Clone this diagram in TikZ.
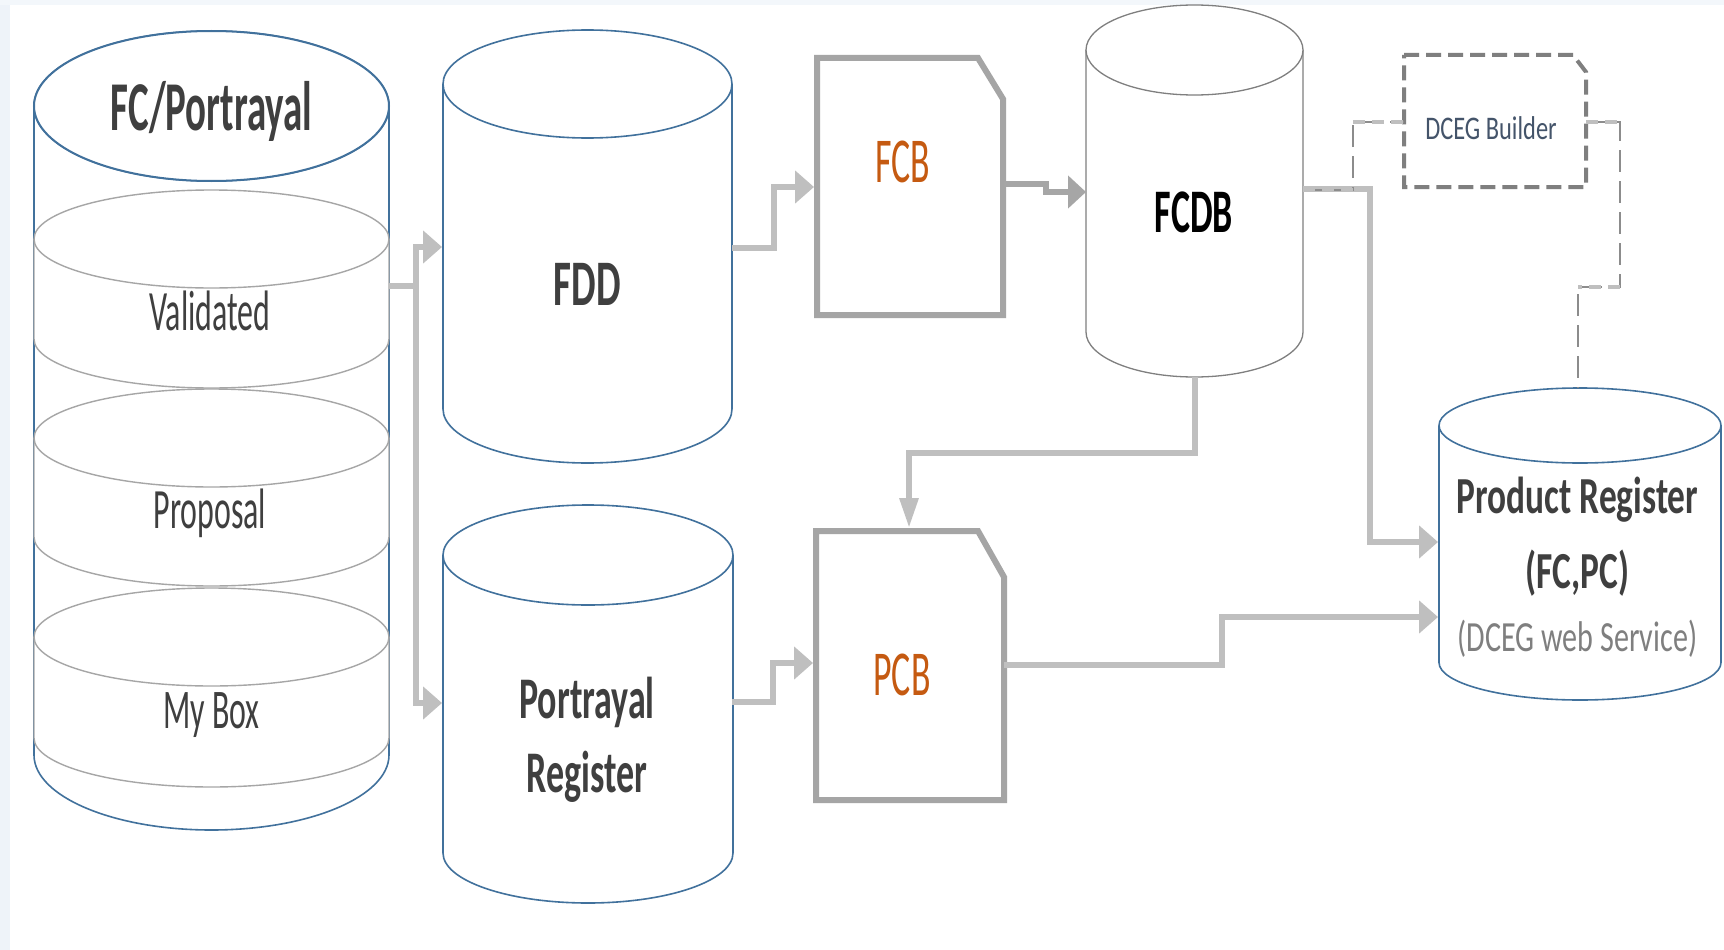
\documentclass[tikz,border=0pt]{standalone}
\usepackage{fontspec}
\setmainfont{Carlito}
\usepackage{graphicx}
\usetikzlibrary{arrows.meta}
\definecolor{cylblue}{HTML}{41719C}
\definecolor{diskgray}{HTML}{A6A6A6}
\definecolor{fcdbgray}{HTML}{7F7F7F}
\definecolor{conngray}{HTML}{BFBFBF}
\definecolor{conndark}{HTML}{A6A6A6}
\definecolor{boxgray}{HTML}{A5A5A5}
\definecolor{dashlight}{HTML}{BFBFBF}
\definecolor{dashdark}{HTML}{8C8C8C}
\definecolor{dashbox}{HTML}{7F7F7F}
\definecolor{txtdark}{HTML}{3F3F3F}
\definecolor{orangetxt}{HTML}{C55A11}
\definecolor{builderblue}{HTML}{44546A}
\definecolor{servicegray}{HTML}{7F7F7F}
\definecolor{bgblue}{HTML}{EEF3F9}
\definecolor{bgtop}{HTML}{F3F7FB}

\newcommand\hsq[2]{\scalebox{#1}[1]{#2}}
% cx, rx, top cy, bottom cy, ry, style
\newcommand\cylshape[6]{%
  \draw[#6, fill=white] ({#1-#2},#3) -- ({#1-#2},#4)
    .. controls ({#1-#2},{#4+0.5523*#5}) and ({#1-0.5523*#2},{#4+#5}) .. (#1,{#4+#5})
    .. controls ({#1+0.5523*#2},{#4+#5}) and ({#1+#2},{#4+0.5523*#5}) .. ({#1+#2},#4)
    -- ({#1+#2},#3);
  \draw[#6, fill=white] (#1,#3) ellipse [x radius=#2pt, y radius=#5pt];
}

\tikzset{
  cylb/.style={draw=cylblue, line width=1.6pt},
  cylg/.style={draw=fcdbgray, line width=1.3pt},
  disk/.style={draw=diskgray, line width=1.4pt},
  docbox/.style={draw=boxgray, line width=6pt, fill=white, line join=miter},
  dcegbox/.style={draw=dashbox, line width=4pt, dash pattern=on 15pt off 7pt},
  hit/.style={draw=none, inner sep=0pt, outer sep=0pt, fill=none},
  lbl/.style={anchor=base, inner sep=0pt, outer sep=0pt, text=txtdark},
  connline/.style={draw=conngray, line width=6pt},
  conn/.style={connline, -{Triangle[length=19pt,width=32pt]}},
  conndk/.style={draw=conndark, line width=6pt, -{Triangle[length=18pt,width=32pt]}},
  connthin/.style={connline, -{Triangle[length=30pt,width=18pt]}},
  dashconn/.style={draw=dashdark, line width=2pt, dash pattern=on 22pt off 9pt},
  dashhoriz/.style={draw=dashlight, line width=4pt, dash pattern=on 12pt off 7pt},
}

\begin{document}
\begin{tikzpicture}[x=1pt,y=-1pt]
\useasboundingbox (0,0) rectangle (1724,950);
\fill[white] (0,0) rectangle (1724,950);
\fill[bgblue] (0,0) rectangle (10,950);
\fill[bgtop] (0,0) rectangle (1724,5);

% ---------- FC/Portrayal stack ----------
\node[hit, minimum width=355pt, minimum height=799pt] (fcp) at (211.5,430.5) {};
\cylshape{211.5}{177.5}{106}{755}{75}{cylb}
\cylshape{211.5}{177.5}{239}{339}{49}{disk}
\cylshape{211.5}{177.5}{438}{537}{49}{disk}
\cylshape{211.5}{177.5}{637}{738}{49}{disk}
\draw[cylb, line width=2pt, fill=white] (211.5,106) ellipse [x radius=177.5pt, y radius=75pt];
\node[lbl] (t-fcp) at (211.5,130) {\fontsize{70pt}{80pt}\selectfont\bfseries\hsq{0.556}{FC/Portrayal}};
\node[lbl] (t-val) at (210,330) {\fontsize{57pt}{66pt}\selectfont\hsq{0.56}{Validated}};
\node[lbl] (t-prop) at (210,528) {\fontsize{57pt}{66pt}\selectfont\hsq{0.56}{Proposal}};
\node[lbl] (t-mybox) at (211.5,728) {\fontsize{56pt}{66pt}\selectfont\hsq{0.57}{My Box}};

% ---------- FDD ----------
\node[hit, minimum width=289pt, minimum height=433pt] (fdd) at (587.5,246.5) {};
\cylshape{587.5}{144.5}{84}{409}{54}{cylb}
\node[lbl] (t-fdd) at (587.5,305) {\fontsize{65pt}{75pt}\selectfont\bfseries\hsq{0.60}{FDD}};

% ---------- Portrayal Register ----------
\node[hit, minimum width=290pt, minimum height=398pt] (preg) at (588,704) {};
\cylshape{588}{145}{555}{853}{50}{cylb}
\node[lbl] (t-preg1) at (587,718) {\fontsize{59pt}{70pt}\selectfont\bfseries\hsq{0.61}{Portrayal}};
\node[lbl] (t-preg2) at (587,792) {\fontsize{59pt}{70pt}\selectfont\bfseries\hsq{0.61}{Register}};

% ---------- FCB ----------
\node[hit, minimum width=186pt, minimum height=257pt] (fcb) at (910,186.5) {};
\draw[docbox] (817,58) -- (978,58) -- (1003,99) -- (1003,315) -- (817,315) -- cycle;
\node[lbl, text=orangetxt] (t-fcb) at (903,182) {\fontsize{64pt}{74pt}\selectfont\hsq{0.56}{FCB}};

% ---------- PCB ----------
\node[hit, minimum width=188pt, minimum height=269pt] (pcb) at (910,665.5) {};
\draw[docbox] (816,531) -- (978,531) -- (1004,577) -- (1004,800) -- (816,800) -- cycle;
\node[lbl, text=orangetxt] (t-pcb) at (902,695) {\fontsize{64pt}{74pt}\selectfont\hsq{0.56}{PCB}};

% ---------- FCDB ----------
\node[hit, minimum width=217pt, minimum height=372pt] (fcdb) at (1194.5,191) {};
\cylshape{1194.5}{108.5}{50}{332}{45}{cylg}
\node[lbl, text=black] (t-fcdb) at (1194,232) {\fontsize{62pt}{72pt}\selectfont\bfseries\hsq{0.58}{FCDB}};

% ---------- DCEG Builder ----------
\node[hit, minimum width=182pt, minimum height=132pt] (dceg) at (1495,121) {};
\draw[dcegbox] (1404,55) -- (1573,55) -- (1586,72) -- (1586,187) -- (1404,187) -- cycle;
\node[lbl, text=builderblue] (t-dceg) at (1491,139) {\fontsize{33pt}{40pt}\selectfont\hsq{0.74}{DCEG Builder}};

% ---------- Product Register ----------
\node[hit, minimum width=282pt, minimum height=312pt] (prod) at (1580,544) {};
\cylshape{1580}{141}{425.5}{662.5}{37.5}{cylb}
\node[lbl] (t-prod1) at (1577.5,513) {\fontsize{52pt}{62pt}\selectfont\bfseries\hsq{0.68}{Product Register}};
\node[lbl] (t-prod2) at (1577.5,588) {\fontsize{52pt}{62pt}\selectfont\bfseries\hsq{0.68}{(FC,PC)}};
\node[lbl, text=servicegray] (t-prod3) at (1577.5,651) {\fontsize{43pt}{52pt}\selectfont\hsq{0.70}{(DCEG web Service)}};

% ---------- ports ----------
\coordinate (fcp-out) at (389,286);
\coordinate (bus) at (416,286);
\coordinate (fdd-in) at (442,247);
\coordinate (preg-in) at (442,703);
\coordinate (fdd-out) at (732,248);
\coordinate (fcb-in) at (814,187);
\coordinate (fcb-out) at (1004,184);
\coordinate (fcdb-in) at (1086,192);
\coordinate (fcdb-out) at (1303,189);
\coordinate (fcdb-dash) at (1303,190);
\coordinate (fcdb-bot) at (1195,377);
\coordinate (pcb-top) at (909,528);
\coordinate (preg-out) at (732,702);
\coordinate (pcb-in) at (813,663);
\coordinate (pcb-out) at (1004,665);
\coordinate (prod-in1) at (1438,542);
\coordinate (prod-in2) at (1438,617);
\coordinate (dceg-in) at (1404,122);
\coordinate (dceg-out) at (1586,122);
\coordinate (prod-top) at (1578,388);
% dashed connector corners
\coordinate (d1a) at (1353,190);
\coordinate (d1b) at (1353,122);
\coordinate (d2a) at (1620,122);
\coordinate (d2b) at (1620,287);
\coordinate (d2c) at (1578,287);

% ---------- connectors ----------
\draw[connline] (fcp-out) -- (bus);
\draw[conn] (bus) |- (fdd-in);
\draw[conn] (bus) |- (preg-in);
\draw[conn] (fdd-out) -- ++(42,0) |- (fcb-in);
\draw[conndk] (fcb-out) -- ++(42,0) -- ++(0,8) -- (fcdb-in);
\draw[conn] (fcdb-out) -- ++(67,0) |- (prod-in1);
\draw[connthin] (fcdb-bot) -- ++(0,76) -| (pcb-top);
\draw[conn] (preg-out) -- ++(41,0) |- (pcb-in);
\draw[conn] (pcb-out) -- ++(218,0) |- (prod-in2);

% dashed links (vertical runs thin and dark, horizontal runs light and thicker)
\draw[dashconn] (fcdb-dash) -- (d1a) -- (d1b) -- (dceg-in);
\draw[dashhoriz] (fcdb-dash) -- (d1a);
\draw[dashhoriz] (d1b) -- (dceg-in);
\draw[dashconn] (dceg-out) -- (d2a) -- (d2b) -- (d2c) -- (prod-top);
\draw[dashhoriz] (dceg-out) -- (d2a);
\draw[dashhoriz] (d2b) -- (d2c);
\end{tikzpicture}
\end{document}
